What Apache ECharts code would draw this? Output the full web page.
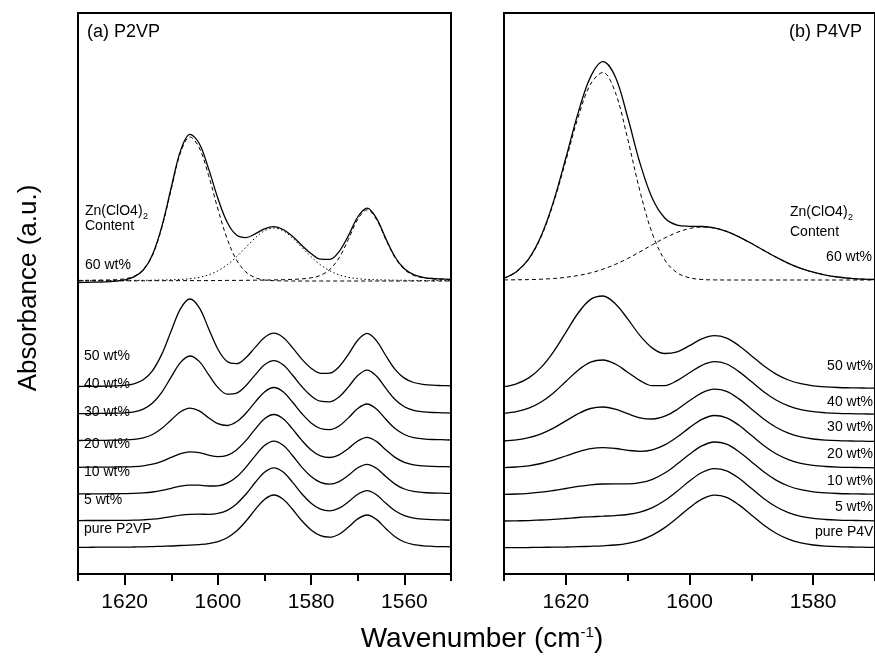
<!DOCTYPE html>
<html>
<head>
<meta charset="utf-8">
<script src="https://cdn.jsdelivr.net/npm/echarts@6/dist/echarts.min.js"></script>
<style>
html,body{margin:0;padding:0;background:#fff;}
#chart{width:875px;height:656px;}
</style>
</head>
<body>
<div id="chart"></div>
<script>
// ---------- DATA ----------
// wavenumbers (cm-1) for the P2VP panel
const wnP2VP = [1630,1628,1626,1624,1622,1620,1618,1616,1614,1612,1610,1608,1606,1604,1602,1600,1598,1596,1594,1592,1590,1588,1586,1584,1582,1580,1578,1576,1574,1572,1570,1568,1566,1564,1562,1560,1558,1556,1554,1552,1550];
// offset absorbance traces, P2VP blends
const p2vpPure = [26.7,26.7,26.8,26.8,26.9,26.9,27.0,27.1,27.4,27.7,28.0,28.5,28.8,29.4,30.3,32.3,36.2,42.9,52.7,64.4,74.6,79.0,74.8,64.7,53.3,44.0,38.3,36.8,39.8,46.9,55.1,59.0,54.6,45.6,37.3,32.0,29.4,28.2,27.7,27.4,27.2];
const p2vp5 = [53.4,53.5,53.5,53.5,53.6,53.7,53.8,54.2,54.8,55.9,57.4,58.9,59.7,59.8,59.7,60.6,63.7,70.1,79.8,91.5,101.8,106.2,101.9,91.8,80.2,70.8,64.9,63.2,65.8,72.2,79.7,83.3,79.2,70.9,63.2,58.4,55.9,54.8,54.3,54.1,53.9];
const p2vp10 = [80.1,80.2,80.2,80.2,80.3,80.4,80.6,81.1,82.0,83.6,85.7,87.9,88.9,88.8,88.0,88.2,90.9,97.0,106.6,118.2,128.5,132.9,128.7,118.5,106.9,97.5,91.6,89.8,92.4,98.7,106.2,109.7,105.7,97.5,89.9,85.0,82.6,81.5,81.0,80.8,80.6];
const p2vp20 = [106.7,106.8,106.8,106.9,107.0,107.1,107.4,108.2,109.8,112.7,116.6,120.4,122.2,121.4,118.9,117.3,118.7,124.1,133.4,144.9,155.2,159.5,155.3,145.1,133.6,124.1,118.2,116.5,119.1,125.5,133.0,136.7,132.6,124.3,116.6,111.7,109.2,108.1,107.6,107.4,107.2];
const p2vp30 = [133.5,133.6,133.6,133.7,133.9,134.1,134.7,136.2,139.5,145.7,154.1,162.2,165.8,163.1,156.3,150.3,148.5,152.2,160.7,171.9,182.1,186.5,182.2,172.0,160.5,151.1,145.5,144.3,148.0,156.1,165.5,170.0,165.0,154.8,145.4,139.5,136.4,135.2,134.5,134.3,134.0];
const p2vp40 = [160.3,160.4,160.5,160.6,160.8,161.2,162.2,164.9,170.9,181.9,197.1,211.6,218.0,212.6,199.4,186.6,179.9,180.9,188.3,199.1,209.2,213.4,209.2,199.0,187.5,178.2,172.8,172.2,177.1,187.1,198.5,203.9,198.0,185.8,174.5,167.3,163.7,162.2,161.5,161.2,160.9];
const p2vp50 = [187.5,187.6,187.7,187.8,188.1,188.7,190.2,194.2,203.4,220.1,243.3,265.4,275.0,266.4,245.6,224.8,212.4,210.3,216.3,226.6,236.5,240.8,236.5,226.4,214.9,205.8,200.7,200.9,207.3,219.7,233.8,240.6,233.4,218.5,204.7,195.9,191.5,189.7,188.8,188.4,188.1];
const p2vp60 = [291.5,291.7,291.9,292.1,292.8,294.1,297.1,304.0,319.6,347.9,386.5,423.4,439.7,430.5,405.4,375.7,351.8,338.9,336.4,340.1,345.1,347.3,344.5,337.7,328.7,320.4,314.8,314.6,322.4,338.4,357.0,365.8,355.9,335.6,317.0,305.2,299.3,296.7,295.5,295.1,294.7];
// curve-fit components of the 60 wt% P2VP trace
const p2vpFit1606 = [293.6,293.7,293.9,294.0,294.3,295.2,297.6,304.1,319.1,346.7,385.0,421.5,437.0,426.3,398.8,365.0,335.1,314.0,302.1,296.3,294.0,293.3,293.1,293.0,293.0,293.0,293.0,293.0,293.0,293.0,293.0,293.0,293.0,293.0,293.0,293.0,293.0,293.0,293.0,293.0,293.0];
const p2vpFit1588 = [293.3,293.4,293.4,293.4,293.5,293.5,293.6,293.7,293.8,294.0,294.2,294.6,295.3,296.7,299.1,303.2,309.2,317.2,326.6,336.0,343.2,345.9,343.2,336.0,326.6,317.2,309.2,303.2,299.1,296.7,295.3,294.6,294.2,294.0,293.8,293.7,293.6,293.5,293.5,293.4,293.4];
const p2vpFit1568 = [293.1,293.1,293.1,293.1,293.2,293.2,293.2,293.2,293.3,293.3,293.3,293.4,293.4,293.4,293.4,293.5,293.6,293.6,293.7,293.8,293.9,294.1,294.3,294.6,295.1,296.2,298.6,304.5,316.2,334.7,354.7,364.2,354.7,334.7,316.2,304.5,298.6,296.2,295.1,294.6,294.3];

// wavenumbers for the P4VP panel
const wnP4VP = [1630,1628,1626,1624,1622,1620,1618,1616,1614,1612,1610,1608,1606,1604,1602,1600,1598,1596,1594,1592,1590,1588,1586,1584,1582,1580,1578,1576,1574,1572,1570];
const p4vpPure = [26.3,26.4,26.5,26.7,26.8,27.0,27.3,27.7,28.2,29.0,30.7,33.7,38.9,46.4,56.0,66.3,74.8,78.8,76.6,69.1,59.1,49.0,40.7,34.8,31.1,29.0,27.9,27.3,27.0,26.8,26.6];
const p4vp5 = [53.0,53.2,53.4,54.0,54.6,55.5,56.5,57.2,57.8,58.4,59.5,61.9,66.4,73.5,82.8,92.9,101.5,105.4,103.2,95.7,85.7,75.6,67.3,61.4,57.7,55.6,54.5,53.9,53.6,53.4,53.2];
const p4vp10 = [79.7,80.0,80.7,81.8,83.5,85.5,87.6,89.2,90.0,90.1,90.1,91.3,94.7,101.0,109.9,119.7,128.1,132.0,129.8,122.3,112.3,102.2,93.9,88.0,84.3,82.2,81.1,80.5,80.2,80.0,79.8];
const p4vp20 = [106.3,107.0,108.2,110.5,113.8,118.0,122.2,125.3,126.4,125.5,123.7,122.7,124.2,129.1,137.0,146.4,154.6,158.5,156.2,148.7,138.7,128.6,120.3,114.4,110.7,108.6,107.5,106.9,106.6,106.4,106.2];
const p4vp30 = [133.0,134.1,136.3,140.2,145.9,153.1,160.3,165.5,167.0,164.8,160.3,156.2,155.0,157.8,164.5,173.3,181.2,184.9,182.7,175.1,165.1,155.0,146.7,140.8,137.1,135.0,133.9,133.3,133.0,132.8,132.6];
const p4vp40 = [160.7,162.4,165.8,172.0,181.1,192.5,203.8,211.8,214.0,210.0,201.8,193.4,188.3,188.4,193.4,201.2,208.7,212.3,210.0,202.4,192.4,182.3,174.0,168.1,164.4,162.3,161.2,160.6,160.3,160.1,159.9];
const p4vp50 = [187.3,190.2,196.1,206.6,222.2,241.6,261.0,274.6,278.0,270.3,255.1,238.4,225.9,220.5,222.2,228.3,235.1,238.3,235.9,228.3,218.3,208.2,199.9,194.0,190.3,188.2,187.1,186.5,186.2,186.0,185.8];
const p4vp60 = [295.8,302.3,315.2,338.0,372.4,416.0,461.4,497.1,512.3,497.2,456.7,410.7,375.4,356.0,348.9,347.7,347.5,346.1,342.6,337.2,330.7,323.6,316.8,310.7,305.7,301.8,298.9,297.0,295.7,294.9,294.5];
const p4vpFit1614 = [295.7,302.1,314.8,337.1,370.9,413.3,456.9,489.9,501.5,481.6,435.2,382.5,340.2,314.0,301.2,296.2,294.5,294.1,294.0,294.0,294.0,294.0,294.0,294.0,294.0,294.0,294.0,294.0,294.0,294.0,294.0];
const p4vpFit1598 = [294.1,294.2,294.4,294.8,295.5,296.7,298.5,301.1,304.8,309.6,315.5,322.2,329.3,336.0,341.6,345.5,347.0,346.0,342.6,337.2,330.7,323.6,316.8,310.7,305.7,301.8,298.9,297.0,295.7,294.9,294.5];

// tick labels
const ticksP2VP = [1620,1600,1580,1560];
const ticksP4VP = [1620,1600,1580];

// trace labels
const labelsP2VP = ['50 wt%','40 wt%','30 wt%','20 wt%','10 wt%','5 wt%','pure P2VP'];
const labelsP4VP = ['50 wt%','40 wt%','30 wt%','20 wt%','10 wt%','5 wt%','pure P4VP'];

// ---------- CHART ----------
const FONT = '"Liberation Sans", Arial, Helvetica, sans-serif';
const chart = echarts.init(document.getElementById('chart'), null, {renderer: 'canvas'});

function pairs(xs, ys){ return xs.map((x,i)=>[x, ys[i]]); }
function solid(xi, ys, xs){
  return {type:'line', xAxisIndex:xi, yAxisIndex:xi<2?0:1, data:pairs(xs,ys), showSymbol:false, smooth:0.35,
    lineStyle:{color:'#000', width:1.3}, silent:true, z:3};
}
function dashed(xi, ys, xs, dash){
  return {type:'line', xAxisIndex:xi, yAxisIndex:xi<2?0:1, data:pairs(xs,ys), showSymbol:false, smooth:0.35,
    lineStyle:{color:'#000', width:1, type:dash}, silent:true, z:2};
}

function xAxes(grid, min, max, majors){
  const lineStyle = {color:'#000', width:2};
  return [
    {gridIndex:grid, type:'value', position:'bottom', min:min, max:max, inverse:true, interval:10,
     axisLine:{show:true, onZero:false, lineStyle:lineStyle},
     axisTick:{show:true, length:7, lineStyle:lineStyle},
     axisLabel:{show:false}, splitLine:{show:false}},
    {gridIndex:grid, type:'value', position:'bottom', min:min, max:max, inverse:true, interval:10,
     axisLine:{show:false, onZero:false},
     axisTick:{show:true, length:11, customValues:majors, lineStyle:lineStyle},
     axisLabel:{show:true, customValues:majors, fontSize:21, fontFamily:FONT, color:'#000', margin:18,
       formatter:function(v){ return String(v); }},
     splitLine:{show:false}}
  ];
}

const gridTop = 13, gridH = 561;

const series = [
  solid(0, p2vpPure, wnP2VP), solid(0, p2vp5, wnP2VP), solid(0, p2vp10, wnP2VP), solid(0, p2vp20, wnP2VP),
  solid(0, p2vp30, wnP2VP), solid(0, p2vp40, wnP2VP), solid(0, p2vp50, wnP2VP), solid(0, p2vp60, wnP2VP),
  dashed(0, p2vpFit1606, wnP2VP, [4,3]), dashed(0, p2vpFit1588, wnP2VP, [1.5,2.5]), dashed(0, p2vpFit1568, wnP2VP, [4,3]),
  solid(2, p4vpPure, wnP4VP), solid(2, p4vp5, wnP4VP), solid(2, p4vp10, wnP4VP), solid(2, p4vp20, wnP4VP),
  solid(2, p4vp30, wnP4VP), solid(2, p4vp40, wnP4VP), solid(2, p4vp50, wnP4VP), solid(2, p4vp60, wnP4VP),
  dashed(2, p4vpFit1614, wnP4VP, [4,3]), dashed(2, p4vpFit1598, wnP4VP, [4,3])
];

function txt(x, y, text, size, align, extra){
  return Object.assign({type:'text', x:x, y:y, silent:true, z:10,
    style:{text:text, font: size+'px '+FONT, fill:'#000', textAlign:align||'left', textVerticalAlign:'middle', align:align||'left', verticalAlign:'middle'}}, extra||{});
}

const leftLabelY = [356, 384, 412, 444, 472.5, 500.5, 529.5];
const rightLabelY = [366, 402.5, 427.5, 454.5, 481.5, 507, 532.5];

const graphics = [
  txt(87, 32, '(a) P2VP', 18),
  txt(862, 32, '(b) P4VP', 18, 'right'),
  txt(85, 211, 'Zn(ClO4)', 14), txt(143, 217, '2', 9),
  txt(85, 226, 'Content', 14),
  txt(85, 265, '60 wt%', 14),
  txt(790, 212, 'Zn(ClO4)', 14), txt(848, 218, '2', 9),
  txt(790, 232, 'Content', 14),
  txt(872, 257, '60 wt%', 14, 'right'),
  {type:'text', x:29, y:288, rotation:Math.PI/2, silent:true, z:10,
   style:{text:'Absorbance (a.u.)', font:'26px '+FONT, fill:'#000', textAlign:'center', textVerticalAlign:'middle', align:'center', verticalAlign:'middle'}},
  {type:'text', x:482, y:639, silent:true, z:10,
   style:{text:'Wavenumber (cm{sup|-1})', font:'28px '+FONT, fill:'#000', textAlign:'center', textVerticalAlign:'middle', align:'center', verticalAlign:'middle',
     rich:{sup:{fontSize:15, fontFamily:FONT, verticalAlign:'top', fill:'#000'}}}}
];
labelsP2VP.forEach((t,i)=>graphics.push(txt(84, leftLabelY[i], t, 14)));
labelsP4VP.forEach((t,i)=>{
  if (i === 6) graphics.push(txt(815, rightLabelY[i], t, 14));
  else graphics.push(txt(873, rightLabelY[i], t, 14, 'right'));
});

const option = {
  animation:false,
  backgroundColor:'#fff',
  grid:[
    {left:78, top:gridTop, width:373, height:gridH, show:true, borderColor:'#000', borderWidth:2, backgroundColor:'transparent', containLabel:false},
    {left:504, top:gridTop, width:373, height:gridH, show:true, borderColor:'#000', borderWidth:2, backgroundColor:'transparent', containLabel:false}
  ],
  xAxis: xAxes(0, 1550, 1630, ticksP2VP).concat(xAxes(1, 1570, 1630, ticksP4VP)),
  yAxis:[
    {gridIndex:0, type:'value', min:0, max:561, show:false},
    {gridIndex:1, type:'value', min:0, max:561, show:false}
  ],
  series: series,
  graphic: graphics
};
chart.setOption(option);
</script>
</body>
</html>
